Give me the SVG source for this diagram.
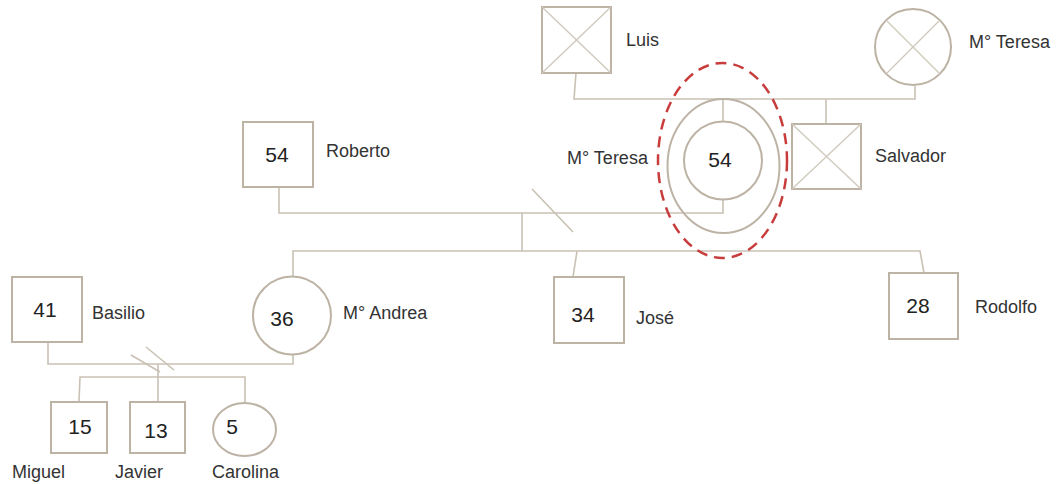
<svg xmlns="http://www.w3.org/2000/svg" width="1060" height="484" viewBox="0 0 1060 484">
<style>
.s{fill:none;stroke:#bcb3a5;stroke-width:2}
.l{fill:none;stroke:#c9c1b4;stroke-width:1.6}
.x{fill:none;stroke:#cfc8bc;stroke-width:1.3}
.n{font-family:"Liberation Sans",Arial,sans-serif;font-size:18px;fill:#333}
.a{font-family:"Liberation Sans",Arial,sans-serif;font-size:21px;fill:#222;text-anchor:middle}
.r{fill:none;stroke:#c83c3c;stroke-width:2.5;stroke-dasharray:11 7}
</style>
<rect width="1060" height="484" fill="#fff"/>
<g id="connectors">
<polyline class="l" points="576,73 574,99 915,99 915,86"/>
<line class="l" x1="723" y1="99" x2="723" y2="122"/>
<line class="l" x1="826" y1="99" x2="826" y2="124"/>
<polyline class="l" points="723,199 723,213 279,213 279,187"/>
<line class="l" x1="522" y1="213" x2="522" y2="251"/>
<line class="l" x1="532" y1="189" x2="573" y2="232"/>
<polyline class="l" points="293,277 293,251 920,251 924,273"/>
<line class="l" x1="577" y1="251" x2="573" y2="277"/>
<polyline class="l" points="48,342 48,364 293,364 293,354"/>
<line class="l" x1="158" y1="364" x2="158" y2="402"/>
<polyline class="l" points="79,401 80,377 245,377 245,403"/>
<line class="l" x1="131" y1="355" x2="160" y2="372"/>
<line class="l" x1="146" y1="347" x2="174" y2="370"/>
</g>
<g id="luis">
<rect class="s" x="542" y="7" width="69" height="66"/>
<line class="x" x1="542" y1="7" x2="611" y2="73"/>
<line class="x" x1="611" y1="7" x2="542" y2="73"/>
<text class="n" x="626" y="46">Luis</text>
</g>
<g id="mteresa-top">
<circle class="s" cx="913" cy="47" r="38"/>
<line class="x" x1="886" y1="20" x2="940" y2="74"/>
<line class="x" x1="940" y1="20" x2="886" y2="74"/>
<text class="n" x="969" y="48">M° Teresa</text>
</g>
<g id="salvador">
<rect class="s" x="792" y="124" width="69" height="65"/>
<line class="x" x1="792" y1="124" x2="861" y2="189"/>
<line class="x" x1="861" y1="124" x2="792" y2="189"/>
<text class="n" x="875" y="162">Salvador</text>
</g>
<g id="mteresa">
<ellipse class="s" cx="723.5" cy="166" rx="56" ry="67"/>
<circle class="s" cx="723" cy="160.5" r="39"/>
<text class="a" x="720" y="167">54</text>
<text class="n" x="567" y="164">M° Teresa</text>
<ellipse class="r" cx="722.5" cy="160.5" rx="64.5" ry="97.5"/>
</g>
<g id="roberto">
<rect class="s" x="243" y="122" width="70" height="65"/>
<text class="a" x="277" y="162">54</text>
<text class="n" x="326" y="157">Roberto</text>
</g>
<g id="basilio">
<rect class="s" x="12" y="277" width="70" height="65"/>
<text class="a" x="45" y="317">41</text>
<text class="n" x="92" y="319">Basilio</text>
</g>
<g id="mandrea">
<circle class="s" cx="292" cy="315.5" r="39"/>
<text class="a" x="282" y="326">36</text>
<text class="n" x="343" y="319">M° Andrea</text>
</g>
<g id="jose">
<rect class="s" x="554" y="277" width="70" height="66"/>
<text class="a" x="583" y="322">34</text>
<text class="n" x="636" y="324">José</text>
</g>
<g id="rodolfo">
<rect class="s" x="889" y="273" width="69" height="66"/>
<text class="a" x="918" y="313">28</text>
<text class="n" x="975" y="313">Rodolfo</text>
</g>
<g id="miguel">
<rect class="s" x="51" y="402" width="56" height="51"/>
<text class="a" x="80" y="434">15</text>
<text class="n" x="12" y="478">Miguel</text>
</g>
<g id="javier">
<rect class="s" x="130" y="402" width="55" height="51"/>
<text class="a" x="156" y="438">13</text>
<text class="n" x="115" y="478">Javier</text>
</g>
<g id="carolina">
<ellipse class="s" cx="244.5" cy="429.5" rx="31.5" ry="26.5"/>
<text class="a" x="232" y="434">5</text>
<text class="n" x="212" y="478">Carolina</text>
</g>
</svg>
